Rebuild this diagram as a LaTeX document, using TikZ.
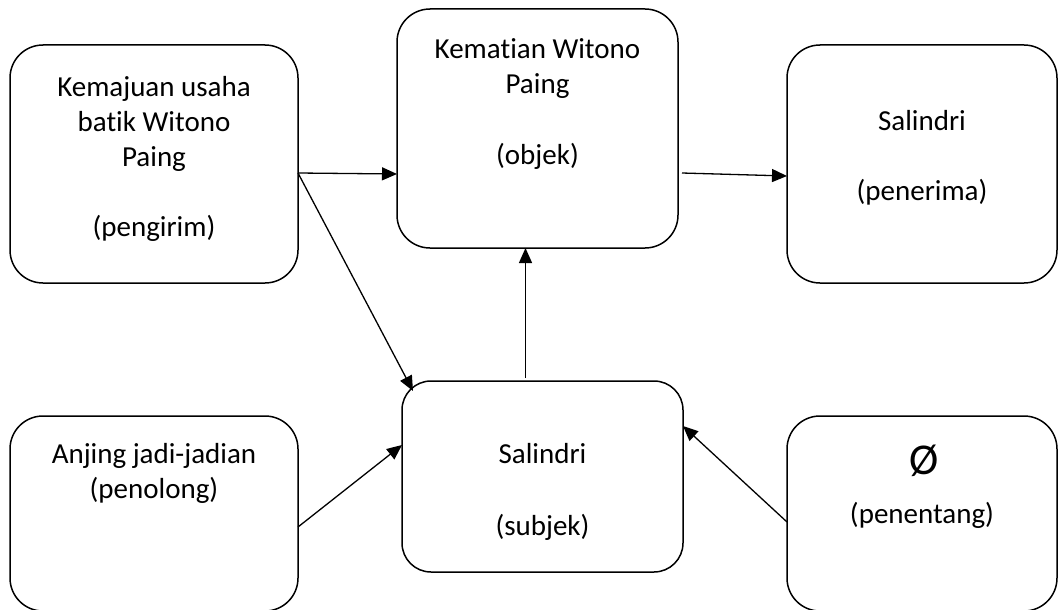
\documentclass[tikz,border=0pt]{standalone}
\usepackage{fontspec}
\setmainfont{Carlito}[Ligatures=NoCommon]
\usetikzlibrary{arrows.meta}

\begin{document}
\begin{tikzpicture}[x=1pt,y=-1pt,
  actant/.style={draw=black, line width=1.5pt, rounded corners=33pt,
    inner sep=0pt, outer sep=0pt, fill=white},
  txt/.style={anchor=base, inner sep=0pt, font=\fontsize{29}{35}\selectfont},
  bigtxt/.style={anchor=base, inner sep=0pt, font=\fontsize{44}{48}\selectfont},
  link/.style={line width=1.3pt, -{Triangle[length=15pt,width=13pt]}}]

\useasboundingbox (0,0) rectangle (1058,610);
\clip (0,0) rectangle (1058,610);

% actant boxes
\node[actant, minimum width=288pt, minimum height=238pt] (pengirim) at (154,164) {};
\node[actant, minimum width=281pt, minimum height=239pt] (objek) at (537.5,128.5) {};
\node[actant, minimum width=270pt, minimum height=238pt] (penerima) at (922,164) {};
\node[actant, minimum width=288pt, minimum height=195pt] (penolong) at (154,513.5) {};
\node[actant, minimum width=281pt, minimum height=191pt, rounded corners=29pt] (subjek) at (542.5,476.5) {};
\node[actant, minimum width=270pt, minimum height=195pt] (penentang) at (922,513.5) {};

% labels
\node[txt] (pengirimA) at (154,96) {Kemajuan usaha};
\node[txt] (pengirimB) at (154,131) {batik Witono};
\node[txt] (pengirimC) at (154,166) {Paing};
\node[txt] (pengirimD) at (154,236) {(pengirim)};

\node[txt] (objekA) at (537.5,59) {Kematian Witono};
\node[txt] (objekB) at (537.5,94) {Paing};
\node[txt] (objekC) at (537.5,164) {(objek)};

\node[txt] (penerimaA) at (922,130) {Salindri};
\node[txt] (penerimaB) at (922,200) {(penerima)};

\node[txt] (penolongA) at (154,463) {Anjing jadi-jadian};
\node[txt] (penolongB) at (154,498) {(penolong)};

\node[txt] (subjekA) at (542.5,463) {Salindri};
\node[txt] (subjekB) at (542.5,535) {(subjek)};

\node[bigtxt] (penentangA) at (924,474) {Ø};
\node[txt] (penentangB) at (922,523) {(penentang)};

% connectors
\draw[link] ([yshift=-9pt]pengirim.east) -- ([yshift=-45.5pt]objek.west);
\draw[link] ([yshift=-9pt]pengirim.east) -- ([xshift=11pt,yshift=-10pt]subjek.north west);
\draw[link] ([xshift=4pt,yshift=-44.5pt]objek.east) -- ([yshift=-12pt]penerima.west);
\draw[link] ([xshift=-17pt,yshift=3pt]subjek.north) -- ([xshift=-12pt]objek.south);
\draw[link] ([yshift=-13.5pt]penolong.east) -- ([yshift=31.5pt]subjek.west);
\draw[link] ([yshift=-8.5pt]penentang.west) -- ([yshift=50.5pt]subjek.east);

\end{tikzpicture}
\end{document}
